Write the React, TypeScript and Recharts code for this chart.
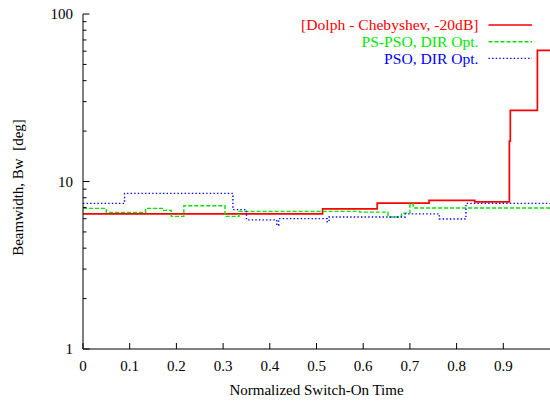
import React from 'react';
import { LineChart, Line, XAxis, YAxis, Legend } from 'recharts';

// Dolph - Chebyshev, -20dB (step function: x = switch-on time, y = beamwidth)
const redX = [0, 0.513, 0.63, 0.741, 0.839, 0.913, 0.915, 0.973, 1.0];
const redY = [6.4, 6.87, 7.42, 7.72, 7.55, 17.4, 26.6, 60.6, 60.6];

// PS-PSO, DIR Opt.
const greenX = [0, 0.05, 0.134, 0.17, 0.189, 0.216, 0.304, 0.334, 0.593, 0.653, 0.682, 0.7, 0.707, 1.0];
const greenY = [6.91, 6.54, 6.91, 6.72, 6.19, 7.17, 6.19, 6.63, 6.56, 6.14, 6.47, 7.34, 6.95, 6.95];

// PSO, DIR Opt.
const blueX = [0, 0.089, 0.321, 0.35, 0.415, 0.419, 0.523, 0.527, 0.69, 0.763, 0.82, 1.0];
const blueY = [7.4, 8.49, 6.79, 5.9, 5.47, 6.0, 5.74, 6.14, 6.41, 5.97, 7.4, 7.4];

const seriesNames = ['[Dolph - Chebyshev, -20dB]', 'PS-PSO, DIR Opt.', 'PSO, DIR Opt.'];
const seriesColors = ['#ff0000', '#00e600', '#0000ff'];
const seriesDash = ['', '4 2', '1.4 2.2'];

const xTicks = [0, 0.1, 0.2, 0.3, 0.4, 0.5, 0.6, 0.7, 0.8, 0.9];
const xTickLabels = ['0', '0.1', '0.2', '0.3', '0.4', '0.5', '0.6', '0.7', '0.8', '0.9'];
const yTicks = [1, 2, 3, 4, 5, 6, 7, 8, 9, 10, 20, 30, 40, 50, 60, 70, 80, 90, 100];
const yLabeled = [1, 10, 100];

const xTitle = 'Normalized Switch-On Time';
const yTitle = 'Beamwidth, Bw  [deg]';

const toRows = (xs: number[], ys: number[]) => xs.map((x, i) => ({ x, y: ys[i] }));
const seriesData = [toRows(redX, redY), toRows(greenX, greenY), toRows(blueX, blueY)];

const FONT = '"Liberation Serif", "Times New Roman", serif';
const FS = 15;
const LFS = 15.6;

const LeftTick = (p: any) => {
  const v = p.payload.value;
  const major = yLabeled.includes(v);
  const len = major ? 6.5 : 3.5;
  return (
    <g>
      <line x1={p.x} x2={p.x + len} y1={p.y} y2={p.y} stroke="#000" strokeWidth={1} />
      {major && (
        <text x={p.x - 10} y={p.y} dy="0.35em" textAnchor="end" fontFamily={FONT} fontSize={FS} fill="#000">
          {v}
        </text>
      )}
    </g>
  );
};

const RightTick = (p: any) => {
  const v = p.payload.value;
  const major = yLabeled.includes(v);
  const len = major ? 6.5 : 3.5;
  return <line x1={p.x} x2={p.x - len} y1={p.y} y2={p.y} stroke="#000" strokeWidth={1} />;
};

const BottomTick = (p: any) => {
  const i = xTicks.indexOf(p.payload.value);
  return (
    <g>
      <line x1={p.x} x2={p.x} y1={p.y} y2={p.y - 6} stroke="#000" strokeWidth={1} />
      <text x={p.x} y={p.y + 17} dy="0.35em" textAnchor="middle" fontFamily={FONT} fontSize={FS} fill="#000">
        {xTickLabels[i]}
      </text>
    </g>
  );
};

const TopTick = (p: any) => (
  <line x1={p.x} x2={p.x} y1={p.y} y2={p.y + 6} stroke="#000" strokeWidth={1} />
);

const renderLegend = () => (
  <svg width={300} height={60} style={{ overflow: 'visible' }}>
    {seriesNames.map((n, i) => {
      const cy = 11 + i * 16.7;
      return (
        <g key={n}>
          <text x={228.5} y={cy} dy="0.35em" textAnchor="end" fontFamily={FONT} fontSize={LFS} fill={seriesColors[i]}>
            {n}
          </text>
          <line
            x1={238.5}
            x2={282}
            y1={cy}
            y2={cy}
            stroke={seriesColors[i]}
            strokeWidth={i === 0 ? 1.6 : 1.4}
            strokeDasharray={seriesDash[i] || undefined}
          />
        </g>
      );
    })}
  </svg>
);

export default function App() {
  return (
    <div style={{ position: 'absolute', left: 0, top: 0, width: 550, height: 403, overflow: 'hidden', background: '#fff' }}>
      <LineChart width={550} height={403} margin={{ top: 14, right: 0, bottom: 0, left: 0 }}>
        <XAxis
          xAxisId="b"
          type="number"
          dataKey="x"
          domain={[0, 1]}
          ticks={xTicks}
          interval={0}
          height={54}
          tickSize={0}
          tickMargin={0}
          tickLine={false}
          axisLine={{ stroke: '#000' }}
          tick={<BottomTick />}
          allowDataOverflow
          label={{
            content: (lp: any) => {
              const vb = lp.viewBox;
              return (
                <text x={vb.x + vb.width / 2} y={vb.y + 41} dy="0.35em" textAnchor="middle" fontFamily={FONT} fontSize={FS} fill="#000">
                  {xTitle}
                </text>
              );
            },
          }}
        />
        <XAxis
          xAxisId="t"
          orientation="top"
          type="number"
          dataKey="x"
          domain={[0, 1]}
          ticks={xTicks}
          interval={0}
          height={0}
          tickSize={0}
          tickMargin={0}
          tickLine={false}
          axisLine={{ stroke: '#000' }}
          tick={<TopTick />}
          allowDataOverflow
        />
        <YAxis
          yAxisId="l"
          scale="log"
          domain={[1, 100]}
          ticks={yTicks}
          interval={0}
          width={83}
          tickSize={0}
          tickMargin={0}
          tickLine={false}
          axisLine={{ stroke: '#000' }}
          tick={<LeftTick />}
          allowDataOverflow
          label={{
            content: (lp: any) => {
              const vb = lp.viewBox;
              const cx = vb.x + 18;
              const cy = vb.y + vb.height / 2 + 6;
              return (
                <text
                  x={cx}
                  y={cy}
                  dy="0.35em"
                  textAnchor="middle"
                  transform={`rotate(-90 ${cx} ${cy})`}
                  fontFamily={FONT}
                  fontSize={FS}
                  fill="#000"
                  style={{ whiteSpace: 'pre' }}
                >
                  {yTitle}
                </text>
              );
            },
          }}
        />
        <YAxis
          yAxisId="r"
          orientation="right"
          scale="log"
          domain={[1, 100]}
          ticks={yTicks}
          interval={0}
          width={0}
          tickSize={0}
          tickMargin={0}
          tickLine={false}
          axisLine={{ stroke: '#000' }}
          tick={<RightTick />}
          allowDataOverflow
        />
        {seriesData.map((d, i) => (
          <Line
            key={seriesNames[i]}
            xAxisId="b"
            yAxisId="l"
            data={d}
            dataKey="y"
            name={seriesNames[i]}
            type="stepAfter"
            stroke={seriesColors[i]}
            strokeWidth={i === 0 ? 1.7 : 1.4}
            strokeDasharray={seriesDash[i] || undefined}
            dot={false}
            activeDot={false}
            isAnimationActive={false}
          />
        ))}
        <Legend
          layout="horizontal"
          verticalAlign="middle"
          align="center"
          wrapperStyle={{ top: 14, left: 250, width: 300, height: 60 }}
          content={renderLegend}
        />
      </LineChart>
    </div>
  );
}
